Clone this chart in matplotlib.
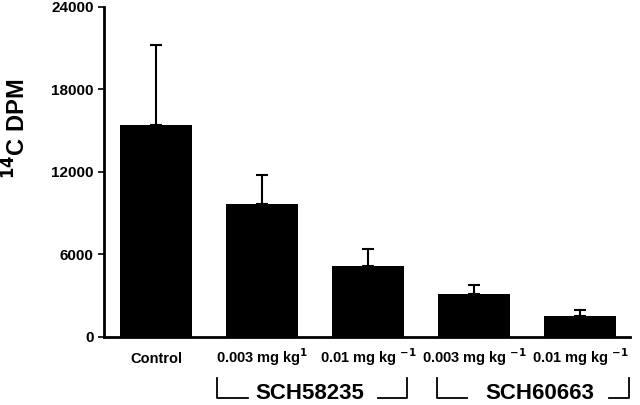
import matplotlib.pyplot as plt
import matplotlib.transforms as mtransforms

plt.rcParams['font.family'] = ['Liberation Sans', 'DejaVu Sans']
plt.rcParams['font.weight'] = 'bold'
plt.rcParams['mathtext.default'] = 'bf'

# data
groups = ['Control', '0.003 mg kg$^{1}$', '0.01 mg kg $^{-1}$', '0.003 mg kg $^{-1}$', '0.01 mg kg $^{-1}$']
dpm_mean = [15400, 9700, 5150, 3150, 1530]
dpm_err = [5800, 2100, 1250, 650, 430]
drugs = ['SCH58235', 'SCH60663']

fig = plt.figure(figsize=(6.4, 4.05), dpi=100)
ax = fig.add_axes([0.1625, 0.168, 0.822, 0.815])

x = list(range(len(groups)))
ax.bar(x, dpm_mean, width=0.68, color='black',
       yerr=[[0] * len(dpm_err), dpm_err], capsize=4,
       error_kw=dict(elinewidth=1.5, capthick=1.5, ecolor='black'))

ax.set_xlim(-0.49, 4.47)
ax.set_ylim(0, 24000)
ax.set_yticks([0, 6000, 12000, 18000, 24000])
ax.set_xticks(x)
ax.set_xticklabels(groups, fontsize=10.5, fontweight='bold', va='baseline')
ax.tick_params(axis='y', labelsize=11, direction='out', length=4, width=1.2, pad=3.5)
ax.tick_params(axis='x', length=0, pad=19)
for lab in ax.get_yticklabels():
    lab.set_fontweight('bold')
ax.spines['top'].set_visible(False)
ax.spines['right'].set_visible(False)
ax.spines['left'].set_linewidth(2)
ax.spines['bottom'].set_linewidth(2)
ax.set_ylabel('$^{14}$C DPM', fontsize=17, fontweight='bold')
ax.yaxis.set_label_coords(-0.140, 0.63)

# brackets under the dose labels
trans = mtransforms.blended_transform_factory(ax.transData, ax.transAxes)
brackets = [(0.574, 0.866, 2.09, 2.37, 1.45), (2.65, 2.93, 4.27, 4.46, 3.62)]
for (l0, l1, r0, r1, xc), name in zip(brackets, drugs):
    ax.plot([l0, l0, l1], [-0.124, -0.185, -0.185], color='black', lw=1.3,
            transform=trans, clip_on=False)
    ax.plot([r0, r1, r1], [-0.185, -0.185, -0.124], color='black', lw=1.3,
            transform=trans, clip_on=False)
    ax.text(xc, -0.189, name, transform=trans, ha='center', va='baseline',
            fontsize=16, fontweight='bold')

fig.savefig('out.png', dpi=100)
